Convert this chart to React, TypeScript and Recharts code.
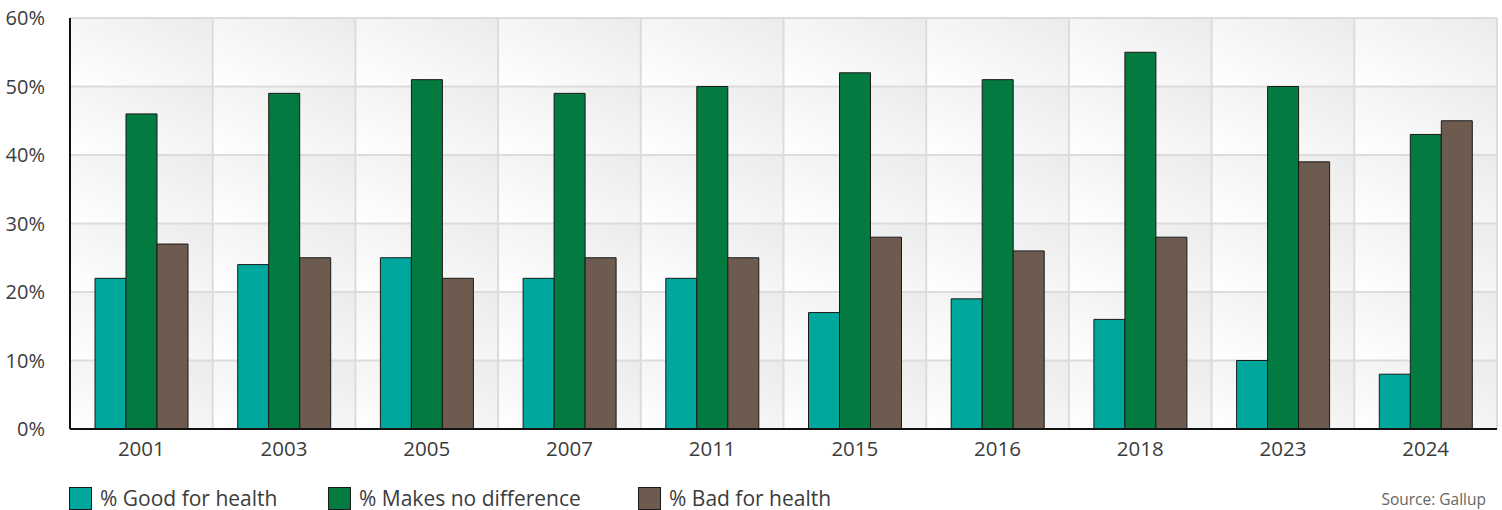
import { BarChart, Bar, XAxis, YAxis, CartesianGrid } from 'recharts'

const years = ['2001', '2003', '2005', '2007', '2011', '2015', '2016', '2018', '2023', '2024']
const goodForHealth = [22, 24, 25, 22, 22, 17, 19, 16, 10, 8]
const noDifference = [46, 49, 51, 49, 50, 52, 51, 55, 50, 43]
const badForHealth = [27, 25, 22, 25, 25, 28, 26, 28, 39, 45]
const yTicks = [0, 10, 20, 30, 40, 50, 60]

const series = [
  { key: 'good', name: '% Good for health', color: '#00a79d' },
  { key: 'none', name: '% Makes no difference', color: '#037a40' },
  { key: 'bad', name: '% Bad for health', color: '#6e5b4f' },
]

const data = years.map((year, i) => ({
  year,
  good: goodForHealth[i],
  none: noDifference[i],
  bad: badForHealth[i],
}))

const W = 1502
const H = 510
const PLOT_LEFT = 70
const PLOT_TOP = 18
const PLOT_RIGHT = 5
const PLOT_BOTTOM = 81
const plotW = W - PLOT_LEFT - PLOT_RIGHT
const plotH = H - PLOT_TOP - PLOT_BOTTOM
const cellW = plotW / years.length
const cellH = plotH / (yTicks.length - 1)

const font = '"Open Sans", "Noto Sans", sans-serif'
const textColor = '#3c3c3c'
const legendLeft = [69, 328, 638]

export default function App() {
  return (
    <div style={{ position: 'absolute', left: 0, top: 0, width: W, height: H, fontFamily: font, background: '#fff' }}>
      <BarChart
        width={W}
        height={H}
        data={data}
        margin={{ top: PLOT_TOP, right: PLOT_RIGHT, left: 0, bottom: PLOT_BOTTOM - 30 }}
        barGap={0}
      >
        <defs>
          <linearGradient id="cellGrad" x1="0" y1="1" x2="1" y2="0">
            <stop offset="0%" stopColor="#ffffff" />
            <stop offset="100%" stopColor="#ebebeb" />
          </linearGradient>
          <pattern
            id="cellPattern"
            patternUnits="userSpaceOnUse"
            x={PLOT_LEFT}
            y={PLOT_TOP}
            width={cellW}
            height={cellH}
          >
            <rect x={0} y={0} width={cellW} height={cellH} fill="url(#cellGrad)" />
          </pattern>
        </defs>
        <CartesianGrid
          fill="url(#cellPattern)"
          stroke="#dcdcdc"
          strokeWidth={2}
          verticalCoordinatesGenerator={({ offset }: any) =>
            years.map((_, i) => offset.left + ((i + 1) * offset.width) / years.length)
          }
        />
        <XAxis
          dataKey="year"
          height={30}
          tickLine={false}
          axisLine={{ stroke: '#111', strokeWidth: 2 }}
          tick={{ fill: textColor, fontSize: 20.5, fontFamily: font }}
          tickMargin={6}
        />
        <YAxis
          width={PLOT_LEFT}
          domain={[0, 60]}
          ticks={yTicks}
          tickFormatter={(v) => `${v}%`}
          tickLine={false}
          axisLine={{ stroke: '#111', strokeWidth: 2 }}
          tick={{ fill: textColor, fontSize: 20, fontFamily: font }}
          tickMargin={19}
        />
        {series.map((s) => (
          <Bar
            key={s.key}
            dataKey={s.key}
            name={s.name}
            fill={s.color}
            stroke="#1a1a1a"
            strokeWidth={1}
            barSize={31}
            isAnimationActive={false}
          />
        ))}
      </BarChart>
      {series.map((s, i) => (
        <div
          key={s.key}
          style={{ position: 'absolute', left: legendLeft[i], top: 487, display: 'flex', alignItems: 'center' }}
        >
          <span
            style={{
              display: 'inline-block',
              width: 21,
              height: 21,
              background: s.color,
              border: '1px solid #1a1a1a',
              marginRight: 8,
            }}
          />
          <span style={{ fontSize: 21, color: textColor, lineHeight: '23px', whiteSpace: 'nowrap' }}>
            {s.name}
          </span>
        </div>
      ))}
      <div style={{ position: 'absolute', right: 16, top: 488, fontSize: 15.5, color: '#666' }}>
        Source: Gallup
      </div>
    </div>
  )
}
